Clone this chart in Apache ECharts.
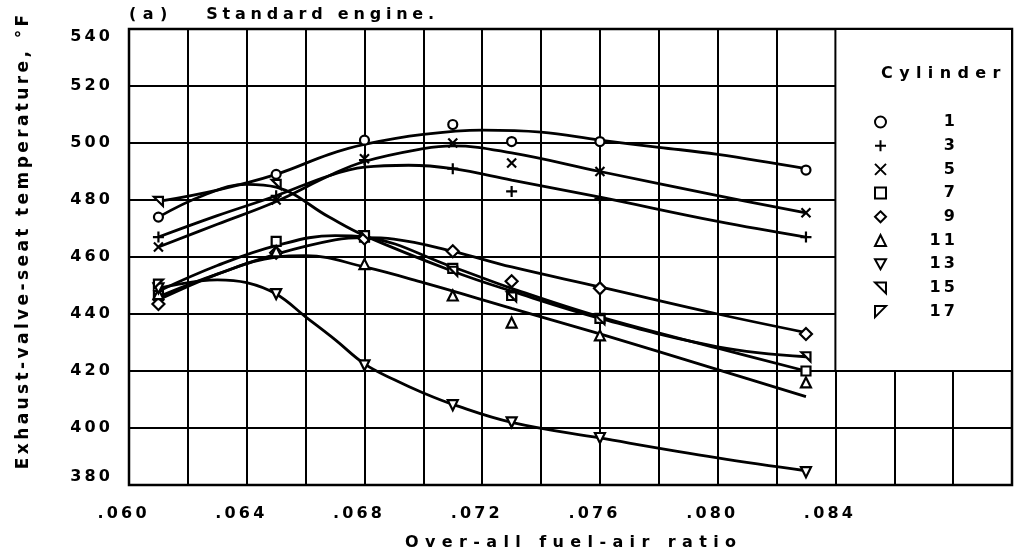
<!DOCTYPE html>
<html>
<head>
<meta charset="utf-8">
<title>Exhaust-valve-seat temperature</title>
<script src="https://cdn.jsdelivr.net/npm/echarts@6/dist/echarts.min.js"></script>
<style>
  html, body { margin: 0; padding: 0; background: #fff; }
  #main { width: 1021px; height: 559px; }
</style>
</head>
<body>
<div id="main"></div>
<script>
// fuel-air ratios at which the cylinders were read
const fuelAir = [0.061, 0.065, 0.068, 0.071, 0.073, 0.076, 0.083];

// measured seat temperatures, deg F (null = no point drawn)
const cyl1  = [474, 489, 501, 506.5, 500.5, 500.5, 490.5];
const cyl3  = [467, 481.5, 494, 491, 483, 480.5, 467];
const cyl5  = [463.5, 480, 494.5, 500, 493, 490, 475.5];
const cyl7  = [446.5, 465.5, 467, 456, 446.5, 438.5, 420];
const cyl9  = [443.5, 461.5, 466.5, 462, 451.5, 449, 433];
const cyl11 = [447, 462, 457.5, 446.5, 437, 432.5, 416];
const cyl13 = [449, 447, 422, 408, 402, 396.5, 384.5];
const cyl15 = [479.5, 485.5, 467.5, 455, 446, 438, 425];
const cyl17 = [450.5, null, null, null, null, null, null];

// faired curves
const fair1  = [[0.061,479.5],[0.063,483.5],[0.065,489],[0.0668,496],[0.068,499.5],[0.070,503],[0.072,504.5],[0.074,503.8],[0.076,501],[0.078,498.5],[0.080,496],[0.083,491]];
const fair3  = [[0.061,467],[0.063,474.5],[0.065,481.5],[0.0668,488.5],[0.068,491.5],[0.0695,492.2],[0.071,491],[0.073,487],[0.076,481],[0.080,472.5],[0.083,467]];
const fair5  = [[0.061,463.5],[0.063,471.5],[0.065,479.5],[0.0668,488.5],[0.068,493.5],[0.070,498],[0.071,499],[0.073,496.5],[0.076,490],[0.080,481.5],[0.083,475.5]];
const fair15 = [[0.061,474],[0.0625,481.5],[0.064,485.5],[0.065,484.5],[0.0668,474],[0.068,467.5],[0.071,455],[0.073,448],[0.076,438.5],[0.080,428.5],[0.083,425]];
const fair7  = [[0.061,448],[0.063,457],[0.065,464],[0.067,467.5],[0.068,467],[0.071,456.5],[0.073,449],[0.076,439],[0.080,428],[0.083,420]];
const fair9  = [[0.061,445],[0.063,454],[0.065,461],[0.067,466],[0.068,466.8],[0.069,466.3],[0.071,462],[0.073,456.5],[0.076,449.5],[0.080,440],[0.083,433.5]];
const fair11 = [[0.061,446],[0.063,454],[0.065,460],[0.066,460.5],[0.068,456.5],[0.070,451],[0.073,442],[0.076,433],[0.080,420.5],[0.083,411]];
const fair13 = [[0.061,449],[0.063,452],[0.064,451],[0.065,447],[0.066,439],[0.067,431],[0.068,422.5],[0.069,417],[0.070,412.3],[0.071,408.3],[0.073,402],[0.076,396.5],[0.080,389.5],[0.083,385]];

const cylNames = ['1', '3', '5', '7', '9', '11', '13', '15', '17'];
const cylTemps = [cyl1, cyl3, cyl5, cyl7, cyl9, cyl11, cyl13, cyl15, cyl17];
const curves = [fair1, fair3, fair5, fair7, fair9, fair11, fair13, fair15];

// marker shapes
const symbols = {
  '1':  ['circle', 9],
  '3':  ['path://M5,0L5,10M0,5L10,5', 11],
  '5':  ['path://M0,0L10,10M10,0L0,10', 9],
  '7':  ['rect', 9],
  '9':  ['diamond', 12],
  '11': ['triangle', 10],
  '13': ['path://M0,0L10,0L5,9Z', 10],
  '15': ['path://M0,0L10,0L10,10Z', 9],
  '17': ['path://M0,0L10,0L0,10Z', 9]
};

const font = 'DejaVu Sans';
// wide lettering like the original
function spaced(s, gap) {
  return String(s).split('').join(gap || '\u2009');
}
const wide = '\u2009\u2009';
const mid = '\u2009\u200A';

let myChart = echarts.init(document.getElementById('main'));

let series = [];
curves.forEach(function (c, i) {
  series.push({
    name: 'fair' + i,
    type: 'line',
    data: c,
    smooth: 0.4,
    symbol: 'none',
    silent: true,
    lineStyle: {color: '#000', width: 2.8},
    z: 3
  });
});
// white legend panel over the grid
series[0].markArea = {
  silent: true,
  itemStyle: {color: '#fff', opacity: 1, borderColor: '#000', borderWidth: 2},
  data: [[{coord: [0.084, 420]}, {coord: [0.090, 540]}]]
};

cylNames.forEach(function (n, i) {
  let pts = [];
  fuelAir.forEach(function (x, j) {
    if (cylTemps[i][j] != null) pts.push([x, cylTemps[i][j]]);
  });
  series.push({
    name: n,
    type: 'scatter',
    data: pts,
    symbol: symbols[n][0],
    symbolSize: symbols[n][1],
    itemStyle: {color: '#fff', borderColor: '#000', borderWidth: 2.2, opacity: 1},
    z: 4
  });
});

let option = {
  animation: false,
  backgroundColor: '#fff',
  title: [
    {
      text: spaced('(a)', wide) + '       ' + spaced('Standard engine.', mid),
      left: 124, top: 2,
      textStyle: {fontFamily: font, fontSize: 16, fontWeight: 'bold', color: '#000'}
    },
    {
      text: spaced('Cylinder', wide),
      left: 876, top: 61,
      textStyle: {fontFamily: font, fontSize: 16, fontWeight: 'bold', color: '#000'}
    }
  ],
  legend: {
    data: cylNames,
    orient: 'vertical',
    left: 869, top: 109,
    itemWidth: 11, itemHeight: 11,
    itemGap: 7.7,
    selectedMode: false,
    formatter: function (name) {
      return '{n|' + spaced(name) + '}';
    },
    textStyle: {
      rich: {
        n: {width: 64, align: 'right', lineHeight: 16, fontFamily: font, fontSize: 16, fontWeight: 'bold', color: '#000'}
      }
    }
  },
  grid: {
    left: 129, top: 29, right: 9, bottom: 74,
    show: true, borderColor: '#000', borderWidth: 2.5, backgroundColor: 'transparent'
  },
  xAxis: {
    type: 'value',
    min: 0.060, max: 0.090, interval: 0.002,
    name: spaced('Over-all fuel-air ratio', wide),
    nameLocation: 'middle', nameGap: 50,
    nameTextStyle: {fontFamily: font, fontSize: 16, fontWeight: 'bold', color: '#000'},
    axisLine: {show: false},
    axisTick: {show: false},
    splitLine: {lineStyle: {color: '#000', width: 2}},
    axisLabel: {
      margin: 21,
      padding: [0, 14, 0, 0],
      fontFamily: font, fontSize: 16, fontWeight: 'bold', color: '#000',
      formatter: function (v) {
        let m = Math.round(v * 1000);
        if (m % 4 !== 0 || m > 84) return '';
        return spaced((m / 1000).toFixed(3).replace(/^0/, ''));
      }
    }
  },
  yAxis: {
    type: 'value',
    min: 380, max: 540, interval: 20,
    name: spaced('Exhaust-valve-seat temperature, \u00B0F'),
    nameLocation: 'middle', nameGap: 97,
    nameTextStyle: {fontFamily: font, fontSize: 17, fontWeight: 'bold', color: '#000', padding: [0, 0, 0, 30]},
    axisLine: {show: false},
    axisTick: {show: false},
    splitLine: {lineStyle: {color: '#000', width: 2}},
    axisLabel: {
      margin: 19,
      verticalAlignMaxLabel: 'top',
      verticalAlignMinLabel: 'bottom',
      fontFamily: font, fontSize: 16, fontWeight: 'bold', color: '#000',
      formatter: function (v) { return spaced(v); }
    }
  },
  series: series
};

option && myChart.setOption(option);
</script>
</body>
</html>
